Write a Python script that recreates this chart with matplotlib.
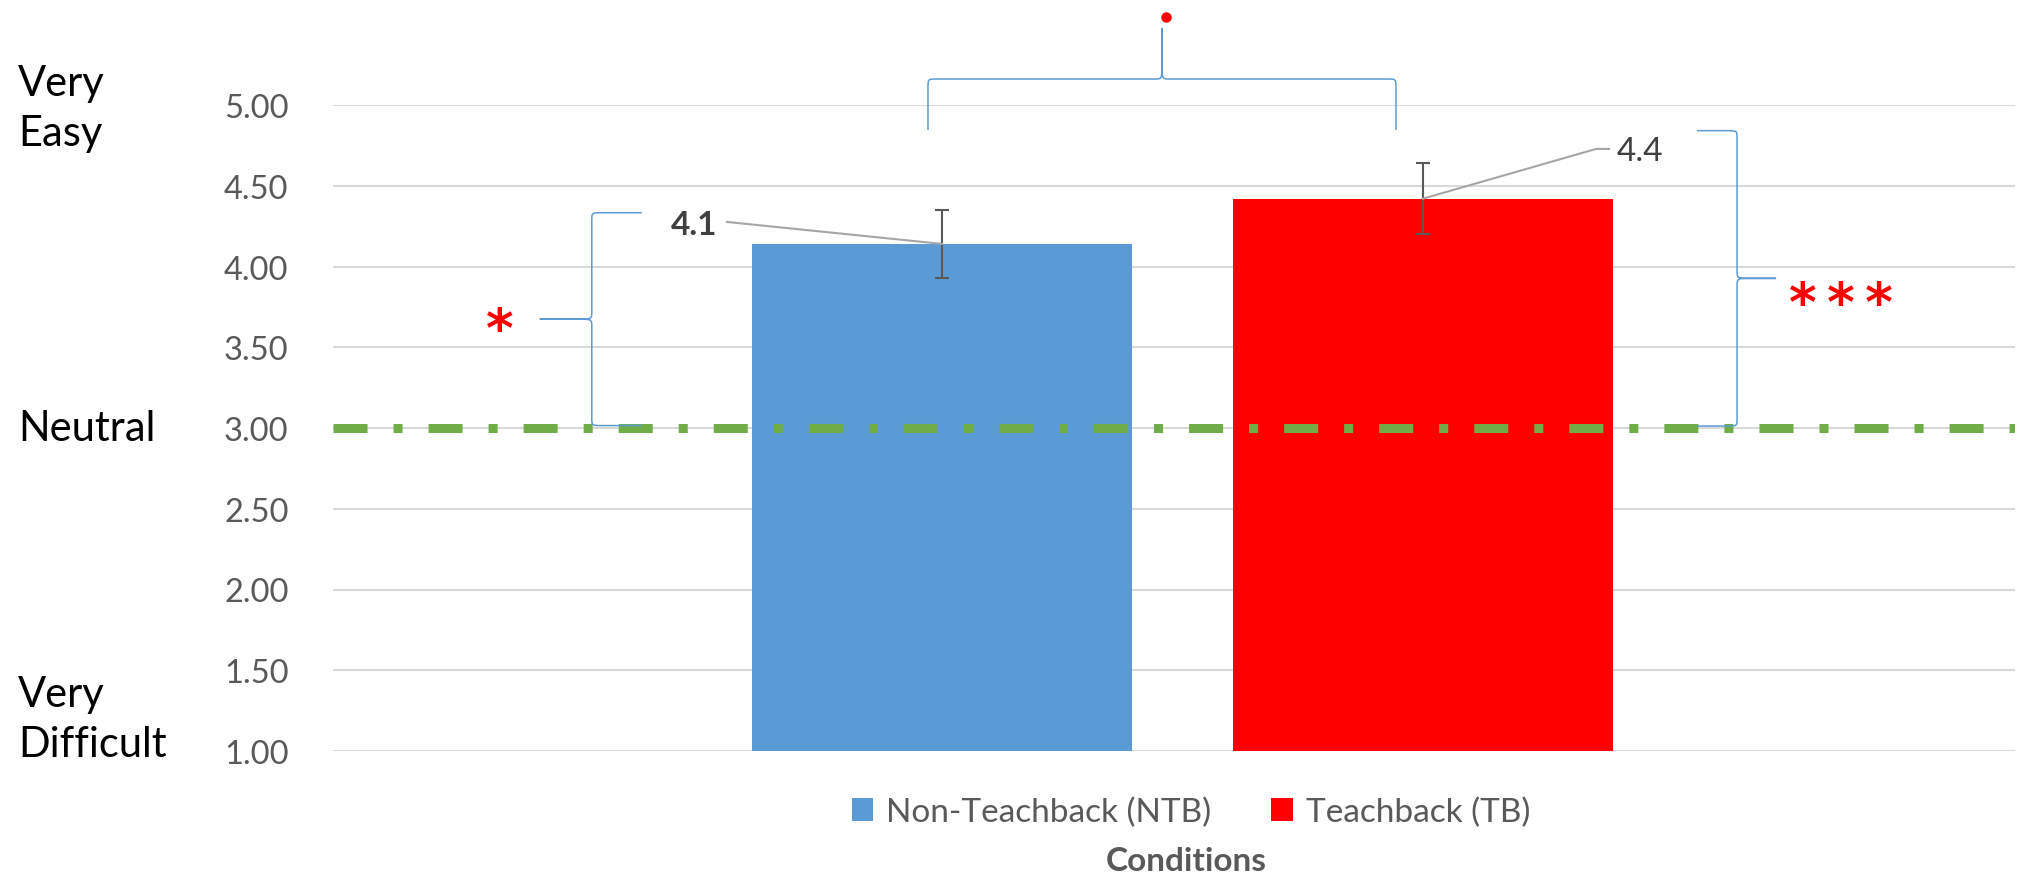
import numpy as np
import matplotlib.pyplot as plt
from matplotlib.path import Path
from matplotlib.patches import PathPatch
from matplotlib.transforms import blended_transform_factory

# data
conditions = ["Non-Teachback (NTB)", "Teachback (TB)"]
means = [4.14, 4.42]
errors = [0.21, 0.22]
value_labels = ["4.1", "4.4"]
bar_colors = ["#5B9BD5", "#FF0000"]
yticks = [1.0, 1.5, 2.0, 2.5, 3.0, 3.5, 4.0, 4.5, 5.0]
neutral = 3.0
scale_labels = ["Very\nEasy", "Neutral", "Very\nDifficult"]
scale_pos = [4.98, 3.0, 1.20]

plt.rcParams['font.family'] = ['Lato', 'DejaVu Sans']

W, H, DPI = 2029, 878, 100
fig = plt.figure(figsize=(W / DPI, H / DPI), dpi=DPI)
# plot area in pixels: left 333, right 2015, top 106, bottom 752
ax = fig.add_axes([333 / W, 1 - 752 / H, (2015 - 333) / W, (752 - 106) / H])

x = np.arange(len(conditions))
ax.set_xlim(-1.266, 2.231)
ax.set_ylim(1, 5)

ax.bar(x, means, width=0.79, color=bar_colors, label=conditions, zorder=2)
ax.errorbar(x, means, yerr=errors, fmt='none', ecolor='#595959',
            elinewidth=1.5, capsize=4.7, capthick=1.5, zorder=4)

# neutral reference line
ax.axhline(neutral, color='#70AD47', lw=6.5, zorder=3,
           linestyle=(0, (3.77, 2.88, 1.0, 2.88)), solid_capstyle='butt')

ax.set_yticks(yticks)
ax.set_yticklabels([f"{v:.2f}" for v in yticks], fontsize=23.5, color='#595959')
ax.set_xticks([])
ax.tick_params(axis='y', length=0, pad=32)
ax.grid(axis='y', color='#D9D9D9', lw=1.5, zorder=0)
ax.set_axisbelow(True)
for s in ax.spines.values():
    s.set_visible(False)

# value labels with leader lines
lead_col = '#A6A6A6'
ax.plot([x[0], -0.447], [means[0], 4.276], color=lead_col, lw=1.5, clip_on=False, zorder=5)
ax.text(-0.516, 4.257, value_labels[0], fontsize=24, fontweight='bold',
        color='#404040', ha='center', va='center')
ax.plot([x[1], 1.360, 1.387], [means[1], 4.728, 4.728], color=lead_col, lw=1.5,
        clip_on=False, zorder=5)
ax.text(1.451, 4.715, value_labels[1], fontsize=24, color='#404040',
        ha='center', va='center')


def brace(p0, p1, d1, d2, side=1, ru=8, rv=10, tru=8, trv=14):
    # curly brace between data points p0 and p1, drawn in pixels
    a = ax.transData.transform(p0)
    b = ax.transData.transform(p1)
    L = np.hypot(*(b - a))
    u = (b - a) / L
    v = side * np.array([-u[1], u[0]])
    m = L / 2
    loc = [(0, 0), (0, d1 - rv),
           (0, d1), (0, d1), (ru, d1),
           (m - tru, d1),
           (m, d1), (m, d1), (m, d1 + trv),
           (m, d2),
           (m, d1 + trv),
           (m, d1), (m, d1), (m + tru, d1),
           (L - ru, d1),
           (L, d1), (L, d1), (L, d1 - rv),
           (L, 0)]
    codes = [Path.MOVETO, Path.LINETO,
             Path.CURVE4, Path.CURVE4, Path.CURVE4,
             Path.LINETO,
             Path.CURVE4, Path.CURVE4, Path.CURVE4,
             Path.LINETO, Path.LINETO,
             Path.CURVE4, Path.CURVE4, Path.CURVE4,
             Path.LINETO,
             Path.CURVE4, Path.CURVE4, Path.CURVE4,
             Path.LINETO]
    verts = [a + p * u + q * v for p, q in loc]
    fig.add_artist(PathPatch(Path(verts, codes), fill=False, ec='#5B9BD5',
                             lw=1.1, transform=None))


brace((-0.624, 4.333), (-0.624, 3.015), 50, 102, side=-1)
brace((1.570, 4.841), (1.570, 3.012), 40, 79, side=1)
brace((-0.029, 4.845), (0.944, 4.845), 51, 102, side=1)

# significance marks
star_font = dict(family='DejaVu Sans', fontsize=38, fontweight='bold',
                 color='#FF0000', ha='center', va='center')
ax.text(-0.919, 3.60, "*", **star_font)
ax.text(1.869, 3.76, "*\u2009*\u2009*", **star_font)
ax.plot([0.465], [5.545], 'o', color='#FF0000', ms=7.5, mec='none', clip_on=False)

# scale anchors on the left
tr = blended_transform_factory(fig.transFigure, ax.transData)
for lab, yv in zip(scale_labels, scale_pos):
    ax.text(18 / W, yv, lab, transform=tr, fontsize=30, color='black',
            ha='left', va='center', linespacing=1.4)

fig.legend(loc='center', bbox_to_anchor=(1191 / W, 1 - 813 / H), ncol=2,
           frameon=False, fontsize=24, labelcolor='#595959',
           handlelength=0.64, handleheight=0.64, handletextpad=0.4,
           columnspacing=1.8)
fig.text(1186 / W, 1 - 862 / H, "Conditions", fontsize=24, fontweight='bold',
         color='#595959', ha='center', va='center')

fig.savefig("out.png", dpi=DPI)
